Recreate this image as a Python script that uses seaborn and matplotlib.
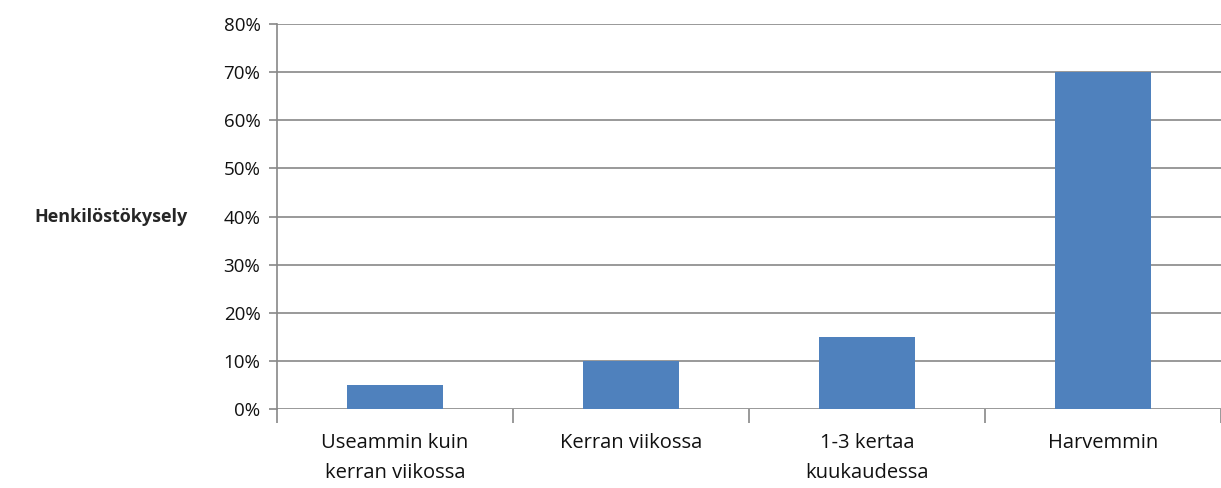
import pandas as pd
import matplotlib
matplotlib.use("Agg")
import matplotlib.pyplot as plt
import seaborn as sns
from matplotlib.ticker import PercentFormatter, FixedLocator

# Data
categories = ["Useammin kuin\nkerran viikossa", "Kerran viikossa",
              "1-3 kertaa\nkuukaudessa", "Harvemmin"]
shares = [5, 10, 15, 70]
y_ticks = [0, 10, 20, 30, 40, 50, 60, 70, 80]

df = pd.DataFrame({"category": categories, "share": shares})

sns.set_style("white")
plt.rcParams["font.family"] = ["Open Sans", "DejaVu Sans"]
plt.rcParams["font.size"] = 13.5

fig = plt.figure(figsize=(12.21, 4.88), dpi=100)
ax = fig.add_axes([0.2269, 0.1619, 0.7731, 0.7889])

sns.barplot(data=df, x="category", y="share", color="#4F81BD",
            width=0.41, saturation=1, linewidth=0, ax=ax, zorder=3)

ax.set_ylim(0, 80)
ax.set_xlim(-0.5, 3.5)
ax.yaxis.set_major_locator(FixedLocator(y_ticks))
ax.yaxis.set_major_formatter(PercentFormatter(decimals=0))
ax.grid(axis="y", color="#888888", linewidth=1.2, zorder=0)
ax.grid(axis="x", visible=False)

for side in ["top", "right", "bottom"]:
    ax.spines[side].set_visible(False)
ax.spines["left"].set_color("#888888")
ax.spines["left"].set_linewidth(1.2)

# category boundary ticks on the x axis
ax.set_xticks([-0.5, 0.5, 1.5, 2.5, 3.5], minor=True)
ax.tick_params(axis="x", which="minor", length=10, width=1.2, color="#888888",
               direction="out", bottom=True)
ax.tick_params(axis="x", which="major", length=0, pad=17, labelsize=14.5,
               labelcolor="#111111")
ax.tick_params(axis="y", length=6, width=1.2, color="#888888",
               direction="out", left=True, pad=6, labelcolor="#111111")

ax.set_xlabel("")
ax.set_ylabel("Henkilöstökysely", rotation=0, fontweight="bold",
              fontsize=13, ha="right", va="center", labelpad=26)

for lbl in ax.get_xticklabels():
    lbl.set_linespacing(1.7)

fig.savefig("out.png", dpi=100)
